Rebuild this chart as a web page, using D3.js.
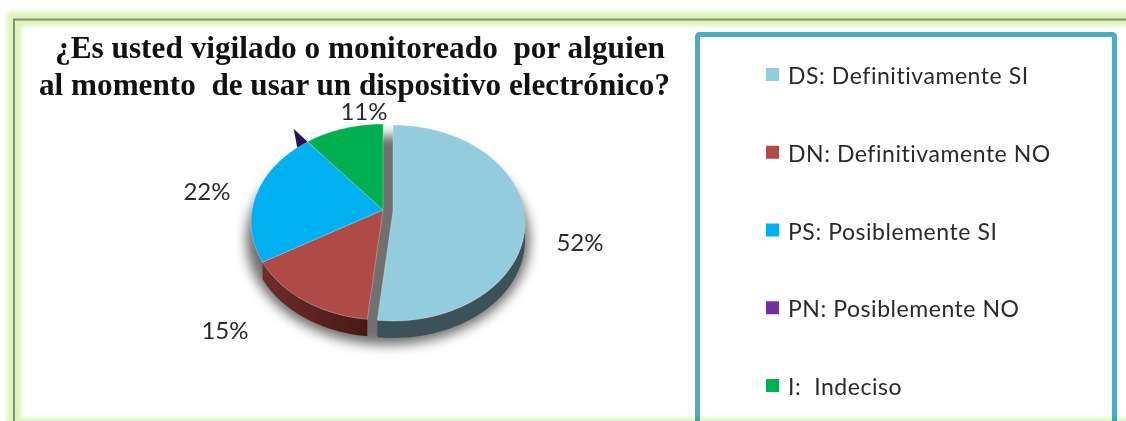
<!DOCTYPE html>
<html>
<head>
<meta charset="utf-8">
<script src="https://d3js.org/d3.v7.min.js"></script>
<style>
  html, body { margin: 0; padding: 0; background: #fff; overflow: hidden; }
</style>
</head>
<body>
<div id="chart"></div>
<script>
// chart data
var titleLines = ["¿Es usted vigilado o monitoreado  por alguien", "al momento  de usar un dispositivo electrónico?"];
var codes = ["DS", "DN", "PS", "PN", "I"];
var legendLabels = ["DS: Definitivamente SI", "DN: Definitivamente NO", "PS: Posiblemente SI", "PN: Posiblemente NO", "I:  Indeciso"];
var values = [52, 15, 22, 0.6, 11];
var valueLabels = ["52%", "15%", "22%", "", "11%"];
var topColors = ["#93cddd", "#ae4b47", "#00b0f0", "#7030a0", "#00b050"];
var legendColors = ["#93cddd", "#ae4b47", "#00b0f0", "#7030a0", "#00b050"];
var wallColors = ["#3d5159", "url(#dnWall)", "#00658a", "#2a1055", "#006630"];

var width = 1126, height = 421;

var svg = d3.select("#chart").append("svg")
  .attr("width", width)
  .attr("height", height)
  .style("display", "block");

var defs = svg.append("defs");
defs.append("filter").attr("id", "glow")
  .attr("x", "-5%").attr("y", "-5%").attr("width", "110%").attr("height", "110%")
  .append("feGaussianBlur").attr("stdDeviation", 2);
defs.append("filter").attr("id", "shadow")
  .attr("x", "-20%").attr("y", "-20%").attr("width", "140%").attr("height", "140%")
  .append("feGaussianBlur").attr("stdDeviation", 6);
var dnWall = defs.append("linearGradient").attr("id", "dnWall");
dnWall.append("stop").attr("offset", "0%").attr("stop-color", "#6f2c29");
dnWall.append("stop").attr("offset", "100%").attr("stop-color", "#471a17");

// title
svg.selectAll(".title")
  .data(titleLines)
  .enter()
  .append("text")
    .attr("class", "title")
    .attr("x", function(d, i) { return i == 0 ? 55 : 39 })
    .attr("y", function(d, i) { return i == 0 ? 58 : 95 })
    .attr("textLength", function(d, i) { return i == 0 ? 610 : 631 })
    .attr("lengthAdjust", "spacingAndGlyphs")
    .style("white-space", "pre")
    .style("font-family", "'Liberation Serif', serif")
    .style("font-weight", "bold")
    .style("font-size", "32px")
    .style("fill", "#111")
    .text(function(d) { return d });

// pie: angles come from d3.pie, then get projected on a tilted disc
var pie = d3.pie().sort(null).value(function(d) { return d });
var arcs = pie(values);

var cx = 383, cy = 222, rx = 132, ry = 98, apexLift = 12, depth = 17;
var apex = -apexLift / ry;

// where a ray at angle a from the apex hits the rim
function rim(a) {
  var dx = Math.sin(a), dy = -Math.cos(a);
  var b = apex * dy;
  var t = -b + Math.sqrt(b * b + 1 - apex * apex);
  return [cx + rx * t * dx, cy + ry * (apex + t * dy)];
}
function rimPoints(a0, a1) {
  return d3.range(0, 61).map(function(i) { return rim(a0 + (a1 - a0) * i / 60) });
}
var line = d3.line();

function explode(i) { return i == 0 ? [10, 1] : [0, 0] }

// soft shadow under the disc
svg.append("ellipse")
  .attr("cx", 388).attr("cy", 240)
  .attr("rx", 142).attr("ry", 105)
  .attr("fill", "#707070")
  .attr("filter", "url(#shadow)");

// side walls, only the front part shows
var front = arcs.filter(function(d) { return d.index == 0 || d.index == 1 });
svg.selectAll(".wall")
  .data(front)
  .enter()
  .append("path")
    .attr("class", "wall")
    .attr("transform", function(d) { return "translate(" + explode(d.index) + ")" })
    .attr("d", function(d) {
      var pts = rimPoints(Math.max(d.startAngle, Math.PI * 0.42), d.endAngle);
      var low = pts.slice().reverse().map(function(p) { return [p[0], p[1] + depth] });
      return line(pts.concat(low)) + "Z";
    })
    .style("fill", function(d) { return wallColors[d.index] });

// slices, PN has no flat face here so PS closes the gap
var pn = arcs[codes.indexOf("PN")];
svg.selectAll(".slice")
  .data(arcs.filter(function(d) { return codes[d.index] != "PN" }))
  .enter()
  .append("path")
    .attr("class", "slice")
    .attr("transform", function(d) { return "translate(" + explode(d.index) + ")" })
    .attr("d", function(d) {
      var end = codes[d.index] == "PS" ? pn.endAngle : d.endAngle;
      return line([[cx, cy - apexLift]].concat(rimPoints(d.startAngle, end))) + "Z";
    })
    .style("fill", function(d) { return topColors[d.index] })
    .style("stroke", "#fff")
    .style("stroke-opacity", 0.4)
    .style("stroke-width", 0.7);

// the PN sliver sticks out of the rim as a small dark spike
var pnMid = (pn.startAngle + pn.endAngle) / 2;
var pnTip = rim(pnMid - 0.02);
svg.append("path")
  .attr("d", line([
    rim(pn.startAngle - 0.07),
    rim(pn.endAngle),
    [pnTip[0] - 10, pnTip[1] - 15]
  ]) + "Z")
  .style("fill", wallColors[3]);

// value labels
var labelPos = {DS: [580, 241], DN: [225, 329], PS: [207, 190], I: [364, 110]};
svg.selectAll(".value")
  .data(arcs.filter(function(d) { return valueLabels[d.index] != "" }))
  .enter()
  .append("text")
    .attr("class", "value")
    .attr("x", function(d) { return labelPos[codes[d.index]][0] })
    .attr("y", function(d) { return labelPos[codes[d.index]][1] })
    .attr("text-anchor", "middle")
    .attr("dominant-baseline", "central")
    .style("font-family", "Lato, 'Open Sans', sans-serif")
    .style("font-size", "24px")
    .style("fill", "#2a2a2a")
    .text(function(d) { return valueLabels[d.index] });

// legend box, runs off the bottom of the picture
svg.append("rect")
  .attr("x", 697.5).attr("y", 34.5).attr("width", 417).attr("height", 440)
  .attr("rx", 2)
  .attr("fill", "#fff")
  .attr("stroke", "#4bacc6")
  .attr("stroke-width", 5);

var legendY = d3.scalePoint().domain(codes).range([75, 386]);
var legend = svg.selectAll(".legend")
  .data(codes)
  .enter()
  .append("g")
    .attr("class", "legend")
    .attr("transform", function(d) { return "translate(766," + legendY(d) + ")" });
legend.append("rect")
  .attr("x", 0).attr("y", -7)
  .attr("width", 13).attr("height", 13)
  .style("fill", function(d, i) { return legendColors[i] });
legend.append("text")
  .attr("x", 22).attr("y", 0)
  .attr("dominant-baseline", "central")
  .style("white-space", "pre")
  .style("font-family", "Lato, 'Open Sans', sans-serif")
  .style("font-size", "23px")
  .style("letter-spacing", "0.55px")
  .style("fill", "#2a2a2a")
  .text(function(d, i) { return legendLabels[i] });

// frame: pale green glow with a thin grey line, multiplied over the box at the bottom
var frame = svg.append("g").style("mix-blend-mode", "multiply");
frame.append("rect")
  .attr("x", 14).attr("y", 19).attr("width", 1300).attr("height", 406)
  .attr("fill", "none")
  .attr("stroke", "#ddf3b8")
  .attr("stroke-width", 14)
  .attr("filter", "url(#glow)");
frame.append("path")
  .attr("d", "M14,440V19.5H1126")
  .attr("fill", "none")
  .attr("stroke", "#85897f")
  .attr("stroke-width", 2);
</script>
</body>
</html>
